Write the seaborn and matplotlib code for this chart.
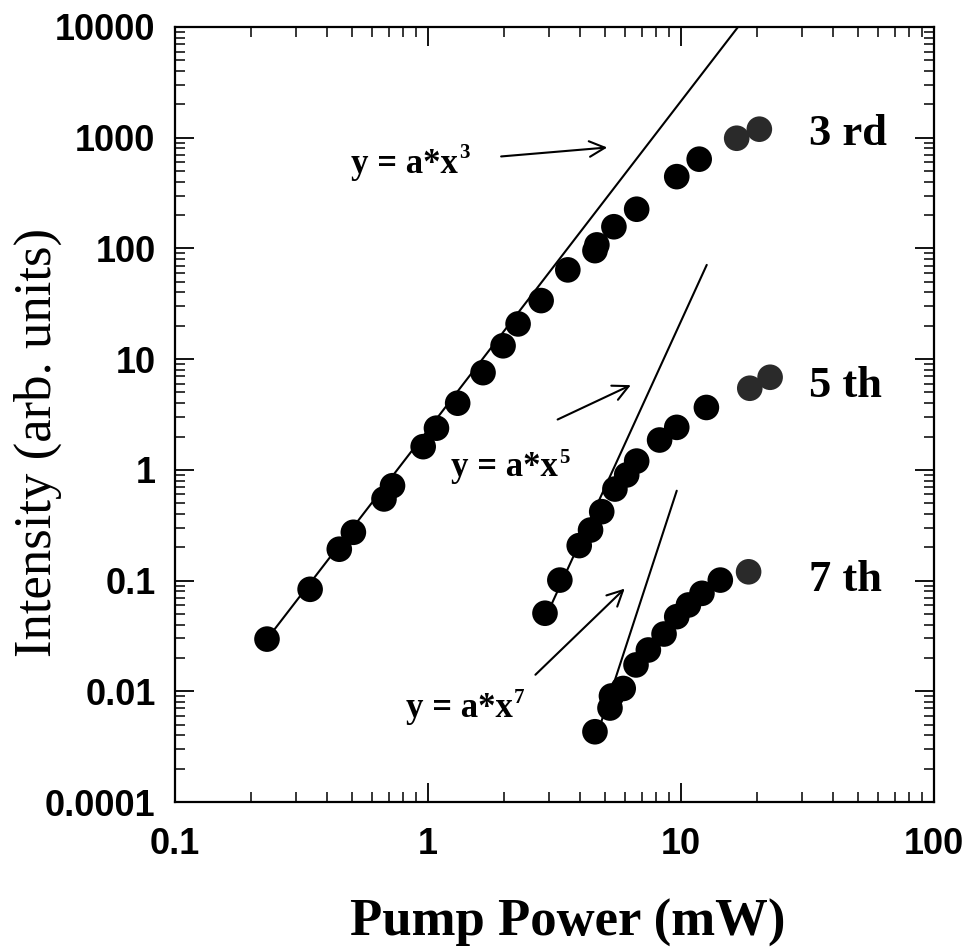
import numpy as np
import pandas as pd
import matplotlib
matplotlib.use("Agg")
import matplotlib.pyplot as plt
import seaborn as sns
from matplotlib.ticker import NullFormatter

# Valores (escala log-log)
third_power = [0.231, 0.342, 0.446, 0.507, 0.670, 0.724, 0.957, 1.08, 1.31, 1.65,
               1.98, 2.27, 2.80, 3.57, 4.57, 4.65, 5.43, 6.68, 9.62, 11.8, 16.6, 20.4]
third_intensity = [0.0296, 0.0834, 0.192, 0.273, 0.546, 0.719, 1.62, 2.38, 4.0, 7.55,
                   13.2, 20.8, 33.8, 64, 95.5, 107.6, 157, 226, 445, 640, 989, 1194]

fifth_power = [2.90, 3.32, 3.96, 4.39, 4.86, 5.48, 6.10, 6.68, 8.23, 9.62, 12.6, 18.7, 22.5]
fifth_intensity = [0.0507, 0.101, 0.207, 0.286, 0.419, 0.671, 0.90, 1.20, 1.86, 2.42,
                   3.66, 5.46, 6.86]

seventh_power = [4.57, 5.24, 5.31, 5.91, 6.64, 7.43, 8.57, 9.62, 10.7, 12.1, 14.3, 18.5]
seventh_intensity = [0.00431, 0.00706, 0.00907, 0.0106, 0.0173, 0.0236, 0.0329, 0.0472,
                     0.0602, 0.0767, 0.101, 0.120]

# pontos "pontilhados" (últimos de cada série)
speckled_count = {"3 rd": 2, "5 th": 2, "7 th": 1}

# retas de ajuste y = a*x^n (extremos)
fit3_x = [0.231, 16.8]
fit3_y = [0.0296, 10000]
fit5_x = [2.95, 12.64]
fit5_y = [0.0494, 71]
fit7_x = [4.75, 9.62]
fit7_y = [0.00464, 0.648]

xtick_vals = [0.1, 1, 10, 100]
xtick_labels = ["0.1", "1", "10", "100"]
ytick_vals = [1e-3, 1e-2, 1e-1, 1, 10, 100, 1000, 10000]
ytick_labels = ["0.0001", "0.01", "0.1", "1", "10", "100", "1000", "10000"]

rows = []
for name, xs, ys in [("3 rd", third_power, third_intensity),
                     ("5 th", fifth_power, fifth_intensity),
                     ("7 th", seventh_power, seventh_intensity)]:
    n = len(xs)
    for i, (x, y) in enumerate(zip(xs, ys)):
        shade = "speckled" if i >= n - speckled_count[name] else "solid"
        rows.append({"order": name, "power": x, "intensity": y, "shade": shade})
df = pd.DataFrame(rows)

sns.set_theme(style="ticks", rc={"text.color": "black", "axes.labelcolor": "black",
                                 "xtick.color": "black", "ytick.color": "black",
                                 "axes.edgecolor": "black"})
plt.rcParams["font.family"] = ["Liberation Serif", "DejaVu Serif"]

fig = plt.figure(figsize=(9.69, 9.47), dpi=100)
fig.patch.set_facecolor("white")
ax = fig.add_axes([175 / 969, 145 / 947, 759 / 969, 775 / 947])
ax.set_xscale("log")
ax.set_yscale("log")

for fx, fy in [(fit3_x, fit3_y), (fit5_x, fit5_y), (fit7_x, fit7_y)]:
    sns.lineplot(x=fx, y=fy, color="black", lw=1.5, ax=ax, zorder=2, sort=False)

sns.scatterplot(data=df, x="power", y="intensity", hue="shade",
                palette={"solid": "black", "speckled": "#2a2a2a"},
                s=340, edgecolor="none", legend=False, ax=ax, zorder=3)

ax.set_xlim(0.1, 100)
ax.set_ylim(1e-3, 1e4)

ax.set_xticks(xtick_vals, xtick_labels, fontsize=26, fontweight="bold",
              family="Liberation Sans")
ax.set_yticks(ytick_vals, ytick_labels, fontsize=26, fontweight="bold",
              family="Liberation Sans")
ax.xaxis.set_minor_formatter(NullFormatter())
ax.yaxis.set_minor_formatter(NullFormatter())
ax.tick_params(which="both", direction="in", top=True, right=True, color="black",
               labelcolor="black")
ax.tick_params(which="major", length=14, width=1.3)
ax.tick_params(which="minor", length=7, width=1.1)
ax.tick_params(axis="y", which="major", pad=14)
ax.tick_params(axis="x", which="major", pad=18)
for sp in ax.spines.values():
    sp.set_linewidth(1.6)
    sp.set_color("black")

ax.set_xlabel("Pump Power (mW)", fontsize=38, fontweight="bold", color="black")
ax.xaxis.set_label_coords(0.518, -0.125)
ax.set_ylabel("Intensity (arb. units)", fontsize=38, color="black")
ax.yaxis.set_label_coords(-0.149, 0.4645)

# rótulos das harmônicas
for label, ypos in [("3 rd", 0.8477), ("5 th", 0.5226), ("7 th", 0.2723)]:
    ax.text(0.8355, ypos, label, transform=ax.transAxes, fontsize=32,
            fontweight="bold", ha="left", va="baseline", color="black")

# fórmulas com expoente
for base_x, base_y, sup_y, exp in [(0.3733, 0.8116, 0.831, "3"),
                                   (0.5046, 0.4206, 0.4374, "5"),
                                   (0.4453, 0.1097, 0.1277, "7")]:
    ax.text(base_x, base_y, "y = a*x", transform=ax.transAxes, fontsize=25,
            fontweight="bold", ha="right", va="baseline", color="black")
    ax.text(base_x + 0.001, sup_y, exp, transform=ax.transAxes, fontsize=15,
            fontweight="bold", ha="left", va="baseline", color="black")

arrow = dict(arrowstyle="->", lw=1.5, color="black", mutation_scale=28)
ax.annotate("", xy=(5.24, 820), xytext=(1.897, 674), arrowprops=arrow)
ax.annotate("", xy=(6.48, 5.97), xytext=(3.18, 2.78), arrowprops=arrow)
ax.annotate("", xy=(6.10, 0.0881), xytext=(2.61, 0.01355), arrowprops=arrow)

fig.savefig("out.png", dpi=100, facecolor="white")
